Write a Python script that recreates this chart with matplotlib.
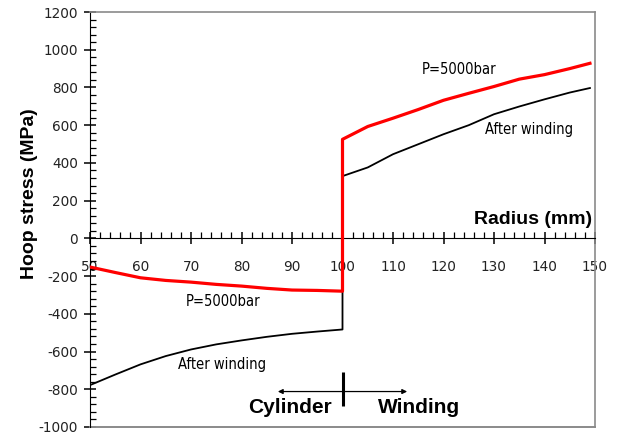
import matplotlib
matplotlib.use("Agg")
import matplotlib.pyplot as plt
from matplotlib.ticker import MultipleLocator
from matplotlib.lines import Line2D

plt.rcParams["axes.unicode_minus"] = False

# Hoop stress through the wall: steel cylinder (r = 50..100 mm) and wound layer (r = 100..150 mm)
r_cyl = [50, 55, 60, 65, 70, 75, 80, 85, 90, 95, 100]
p5000_cyl = [-152, -181, -209, -223, -232, -244, -253, -265, -274, -276, -280]
wound_cyl = [-778, -722, -668, -624, -589, -562, -541, -522, -506, -494, -483]

r_wind = [100, 105, 110, 115, 120, 125, 130, 135, 140, 145, 149]
p5000_wind = [525, 593, 637, 683, 732, 769, 805, 844, 868, 900, 928]
wound_wind = [330, 376, 446, 499, 552, 600, 658, 699, 737, 773, 797]

x_ticks = [50, 60, 70, 80, 90, 100, 110, 120, 130, 140, 150]
y_ticks = [-1000, -800, -600, -400, -200, 0, 200, 400, 600, 800, 1000, 1200]

fig = plt.figure(figsize=(6.19, 4.34), dpi=100)
ax = fig.add_axes([90 / 619, 7 / 434, 505 / 619, 415 / 434])

# full profiles: cylinder part, jump at the interface, winding part
r_all = r_cyl + r_wind
ax.plot(r_all, wound_cyl + wound_wind, color="black", lw=1.3, zorder=3)
ax.plot(r_all, p5000_cyl + p5000_wind, color="#ff0000", lw=2.3, zorder=4)

ax.set_xlim(50, 150)
ax.set_ylim(-1000, 1200)
ax.set_xticks(x_ticks)
ax.set_yticks(y_ticks)
ax.xaxis.set_minor_locator(MultipleLocator(2))
ax.yaxis.set_minor_locator(MultipleLocator(40))

# x axis sits on the zero-stress line
ax.spines["bottom"].set_position(("data", 0))
ax.spines["bottom"].set_color("black")
ax.spines["left"].set_color("black")
for side in ("top", "right"):
    ax.spines[side].set_color("#8a8a8a")
    ax.spines[side].set_linewidth(1.2)
ax.add_line(Line2D([0, 1], [0, 0], transform=ax.transAxes, color="#8a8a8a",
                   lw=1.4, clip_on=False))

tick_font = dict(family="DejaVu Sans", size=9.8)
ax.tick_params(axis="both", which="major", direction="inout", length=9,
               width=1.1, color="black", labelcolor="#222222")
ax.tick_params(axis="both", which="minor", direction="in", length=4,
               width=0.9, color="black")
ax.tick_params(axis="x", which="major", pad=11)
ax.tick_params(axis="y", which="major", pad=4)
for lab in ax.get_xticklabels() + ax.get_yticklabels():
    lab.set_fontfamily(tick_font["family"])
    lab.set_fontsize(tick_font["size"])

bold = dict(family=["Liberation Sans", "DejaVu Sans"], weight="bold")
fig.text(30 / 619, 1 - 194 / 434, "Hoop stress (MPa)", rotation=90,
         ha="center", va="center", fontsize=14, **bold)
ax.text(149.4, 100, "Radius (mm)", ha="right", va="center", fontsize=14, **bold)

narrow = dict(family=["DejaVu Sans"], fontstretch="condensed", fontsize=10.5)
ax.text(123, 894, "P=5000bar", ha="center", va="center", **narrow)
ax.text(137, 578, "After winding", ha="center", va="center", **narrow)
ax.text(76.4, -334, "P=5000bar", ha="center", va="center", **narrow)
ax.text(76.1, -668, "After winding", ha="center", va="center", **narrow)

# cylinder / winding boundary marker
ax.plot([100, 100], [-706, -891], color="black", lw=2.2, solid_capstyle="butt")
arrow = dict(arrowstyle="-|>", color="black", lw=0.9, mutation_scale=7,
             shrinkA=0, shrinkB=0)
ax.annotate("", xy=(87.2, -812), xytext=(100, -812), arrowprops=arrow)
ax.annotate("", xy=(112.8, -812), xytext=(100, -812), arrowprops=arrow)
ax.text(89.7, -897, "Cylinder", ha="center", va="center", fontsize=15, **bold)
ax.text(115.2, -897, "Winding", ha="center", va="center", fontsize=15, **bold)

fig.savefig("out.png", dpi=100)
